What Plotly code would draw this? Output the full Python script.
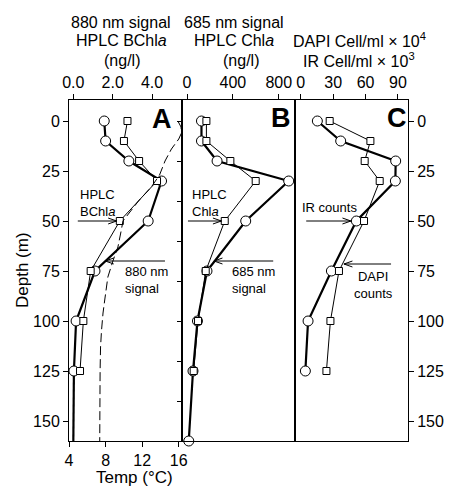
import plotly.graph_objects as go

# ---------------- data ----------------
depth = [0, 10, 20, 30, 50, 75, 100, 125]
depth_signal = [0, 10, 20, 30, 50, 75, 100, 125, 160]

signal_880 = [1.57, 1.64, 2.82, 4.48, 3.80, 1.10, 0.14, 0.03, 0.0]
hplc_bchla = [2.75, 2.57, 3.34, 4.25, 2.36, 0.88, 0.51, 0.34]

signal_685 = [126, 126, 262, 887, 512, 174, 91, 52, 15]
hplc_chla = [169, 169, 378, 599, 329, 163, 96, 58]

ir_counts = [15.4, 37.0, 87.9, 87.6, 51.5, 28.4, 6.8, 4.3]
dapi_counts = [26.8, 64.5, 59.2, 73.1, 58.6, 35.4, 27.5, 23.8]

temp_depth = [0, 3, 6, 9, 14, 20, 27, 33, 40, 50, 55, 63, 70, 78, 88, 96, 105, 113, 125, 140, 160]
temp_c = [15.9, 16.25, 16.3, 16.0, 15.2, 14.5, 13.9, 13.0, 11.6, 9.9, 9.7, 9.35, 8.8, 8.25,
          7.95, 7.72, 7.55, 7.45, 7.4, 7.37, 7.36]

ticks_a = [0, 2, 4]
ticks_b = [0, 400, 800]
ticks_c = [0, 30, 60, 90]
ticks_temp = [4, 8, 12, 16]
ticks_depth = [0, 25, 50, 75, 100, 125, 150]
ticks_depth_minor = [0, 20, 40, 60, 80, 100, 120, 140, 160]

FONT = "Liberation Sans, Arial, Helvetica, sans-serif"
BLACK = "#000000"

fig = go.Figure()

thick = dict(color=BLACK, width=2.2)
thin = dict(color=BLACK, width=1)
circ = dict(symbol="circle", size=10, color="white", line=dict(color=BLACK, width=1))
sq = dict(symbol="square", size=7, color="white", line=dict(color=BLACK, width=1))

# Panel A
fig.add_trace(go.Scatter(x=temp_c, y=temp_depth, mode="lines", xaxis="x4", yaxis="y",
                         line=dict(color=BLACK, width=1, dash="9px,4px"),
                         showlegend=False))
# deepest 880 nm reading drawn as line only (no symbol in the original)
fig.add_trace(go.Scatter(x=signal_880[-2:], y=depth_signal[-2:], mode="lines",
                         xaxis="x", yaxis="y", line=thick, showlegend=False))
fig.add_trace(go.Scatter(x=signal_880[:-1], y=depth_signal[:-1], mode="lines+markers",
                         xaxis="x", yaxis="y", line=thick, marker=circ, showlegend=False))
fig.add_trace(go.Scatter(x=hplc_bchla, y=depth, mode="lines+markers", xaxis="x", yaxis="y",
                         line=thin, marker=sq, showlegend=False))
# Panel B
fig.add_trace(go.Scatter(x=signal_685, y=depth_signal, mode="lines+markers", xaxis="x2", yaxis="y2",
                         line=thick, marker=circ, showlegend=False, cliponaxis=False))
fig.add_trace(go.Scatter(x=hplc_chla, y=depth, mode="lines+markers", xaxis="x2", yaxis="y2",
                         line=thin, marker=sq, showlegend=False))
# Panel C
fig.add_trace(go.Scatter(x=ir_counts, y=depth, mode="lines+markers", xaxis="x3", yaxis="y3",
                         line=thick, marker=circ, showlegend=False))
fig.add_trace(go.Scatter(x=dapi_counts, y=depth, mode="lines+markers", xaxis="x3", yaxis="y3",
                         line=thin, marker=sq, showlegend=False))

tickfont = dict(family=FONT, size=16, color=BLACK)
common_x = dict(side="top", showline=True, linecolor=BLACK, linewidth=1, mirror=True,
                ticks="outside", ticklen=5, tickcolor=BLACK, tickwidth=1, showgrid=False,
                zeroline=False, tickfont=tickfont, fixedrange=True, automargin=False)

fig.update_layout(
    width=449, height=487,
    margin=dict(l=69, r=41, t=100, b=46, autoexpand=False),
    paper_bgcolor="white", plot_bgcolor="white",
    font=dict(family=FONT, color=BLACK),
    xaxis=dict(common_x, domain=[0, 0.334], range=[-0.22, 5.53], anchor="y",
               tickvals=ticks_a, tickformat=".1f"),
    xaxis2=dict(common_x, domain=[0.334, 0.666], range=[-42, 940], anchor="y2",
                tickvals=ticks_b),
    xaxis3=dict(common_x, domain=[0.666, 1.0], range=[-5.5, 99.3], anchor="y3",
                tickvals=ticks_c),
    xaxis4=dict(overlaying="x", side="bottom", anchor="y", range=[4, 16.38],
                tickvals=ticks_temp, ticks="outside", ticklen=5, tickcolor=BLACK,
                showgrid=False, zeroline=False, showline=False, tickfont=tickfont,
                automargin=False),
    yaxis=dict(domain=[0, 1], range=[160, -10.5], anchor="x", side="left",
               tickvals=ticks_depth, ticks="outside", ticklen=5, tickcolor=BLACK,
               showline=True, linecolor=BLACK, linewidth=1, mirror=True,
               showgrid=False, zeroline=False, tickfont=tickfont, automargin=False),
    yaxis2=dict(matches="y", anchor="x2", side="left", tickvals=ticks_depth_minor,
                showticklabels=False, ticks="outside", ticklen=4, tickcolor=BLACK,
                showline=True, linecolor=BLACK, linewidth=1, mirror=True,
                showgrid=False, zeroline=False, automargin=False),
    yaxis3=dict(matches="y", anchor="x3", side="right", tickvals=ticks_depth,
                ticks="outside", ticklen=5, tickcolor=BLACK,
                showline=True, linecolor=BLACK, linewidth=1, mirror=True,
                showgrid=False, zeroline=False, tickfont=tickfont, automargin=False),
)

ann = []

def text(xr, yr, x, y, t, xanchor="left", size=13, bold=False, align="left"):
    f = dict(family=FONT, size=size, color=BLACK)
    if bold:
        f["weight"] = "bold"
    ann.append(dict(xref=xr, yref=yr, x=x, y=y, text=t, showarrow=False,
                    xanchor=xanchor, yanchor="middle", align=align, font=f))

def arrow(xr, yr, hx, hy, tx, ty):
    ann.append(dict(xref=xr, yref=yr, axref=xr, ayref=yr, x=hx, y=hy, ax=tx, ay=ty,
                    text="", showarrow=True, arrowhead=0, arrowwidth=1,
                    arrowcolor=BLACK, standoff=0, startstandoff=0))
    d = 1 if tx < hx else -1
    for s in (-1, 1):
        ann.append(dict(xref=xr, yref=yr, x=hx, y=hy, ax=-d * 10, ay=s * 3.5,
                        text="", showarrow=True, arrowhead=0, arrowwidth=1,
                        arrowcolor=BLACK, standoff=0, startstandoff=0))

# in-panel labels
text("x", "y", 0.24, 40.75, "HPLC<br>BChl<i>a</i>")
text("x", "y", 2.53, 79.5, "880 nm<br>signal")
text("x2", "y2", 23.6, 40.75, "HPLC<br>Chl<i>a</i>")
text("x2", "y2", 372, 79.5, "685 nm<br>signal")
text("x3", "y3", -0.9, 43.25, "IR counts")
text("x3", "y3", 67.4, 82, "DAPI<br>counts", xanchor="center", align="center")

arrow("x", "y", 2.2, 50, 0.15, 50)
arrow("x", "y", 1.62, 70, 4.73, 70)
arrow("x2", "y2", 300, 50, -5, 50)
arrow("x2", "y2", 235, 70, 765, 70)
arrow("x3", "y3", 46.5, 50, 3.7, 50)
arrow("x3", "y3", 40, 71.5, 85, 71.5)

# panel letters
text("x", "y", 4.52, -1, "A", xanchor="center", size=27, bold=True)
text("x2", "y2", 823, -1.75, "B", xanchor="center", size=27, bold=True)
text("x3", "y3", 89.3, -1.75, "C", xanchor="center", size=27, bold=True)

# header titles (paper coords)
def header(px, py, t):
    ann.append(dict(xref="paper", yref="paper", x=(px - 69) / 339, y=(441 - py) / 341,
                    text=t, showarrow=False, xanchor="center", yanchor="middle",
                    font=dict(family=FONT, size=16, color=BLACK)))

header(121, 23, "880 nm signal")
header(121, 41, "HPLC BChl<i>a</i>")
header(121.5, 60, "(ng/l)")
header(234, 23, "685 nm signal")
header(233.5, 41, "HPLC Chl<i>a</i>")
header(241, 60, "(ng/l)")
header(359, 40, "DAPI Cell/ml × 10<sup>4</sup>")
header(359, 60, "IR Cell/ml × 10<sup>3</sup>")

ann.append(dict(xref="paper", yref="paper", x=(22 - 69) / 339, y=(441 - 270) / 341,
                text="Depth (m)", showarrow=False, textangle=-90, xanchor="center",
                yanchor="middle", font=dict(family=FONT, size=17, color=BLACK)))
ann.append(dict(xref="paper", yref="paper", x=(134 - 69) / 339, y=(441 - 478) / 341,
                text="Temp (°C)", showarrow=False, xanchor="center", yanchor="middle",
                font=dict(family=FONT, size=17, color=BLACK)))

fig.update_layout(annotations=ann)
fig.write_html("out.html", config={"displayModeBar": False},
               post_script="document.body.style.margin='0';document.body.style.overflow='hidden';")
